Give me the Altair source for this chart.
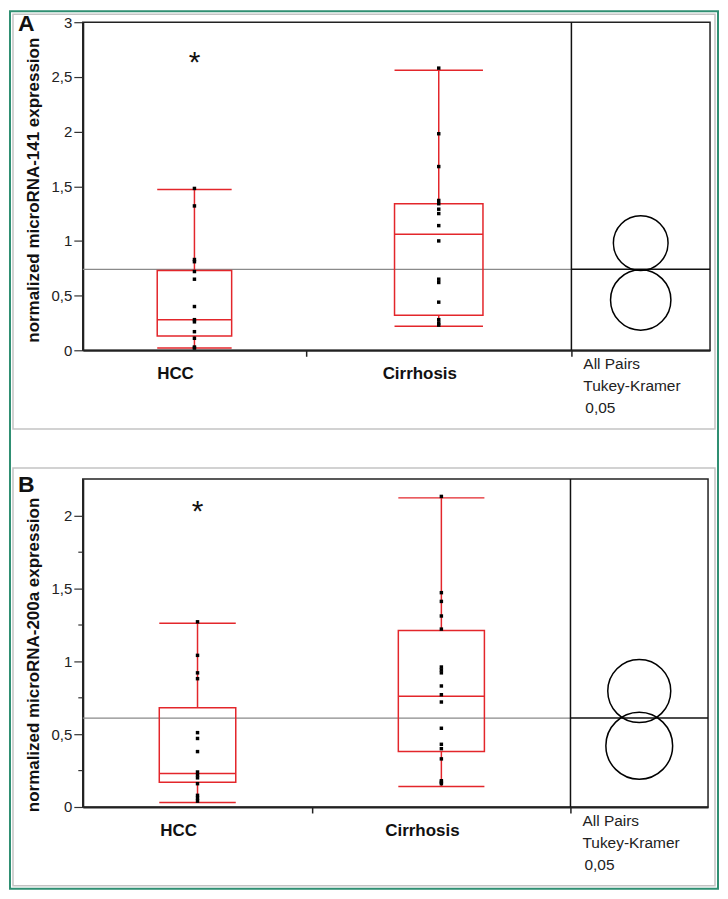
import altair as alt
import pandas as pd

categories = ["HCC", "Cirrhosis"]

# ---------------- Panel A : microRNA-141 ----------------
a_hcc_points = [1.48, 1.32, 0.83, 0.81, 0.72, 0.65, 0.40, 0.28, 0.26, 0.17, 0.11, 0.03, 0.02]
a_cirr_points = [2.58, 1.98, 1.68, 1.37, 1.34, 1.29, 1.25, 1.14, 1.00, 0.65, 0.62, 0.44, 0.28, 0.25, 0.23]
a_q1 = [0.13, 0.32]
a_median = [0.28, 1.06]
a_q3 = [0.73, 1.34]
a_whisker_low = [0.02, 0.22]
a_whisker_high = [1.47, 2.56]
a_grand_mean = 0.74
a_circle_center = [0.46, 0.98]
a_circle_radius = [0.276, 0.25]
a_y_max = 3.0
a_y_ticks = [0, 0.5, 1, 1.5, 2, 2.5, 3]

# ---------------- Panel B : microRNA-200a ----------------
b_hcc_points = [1.27, 1.04, 0.92, 0.88, 0.51, 0.47, 0.38, 0.24, 0.22, 0.20, 0.16, 0.08, 0.06, 0.04]
b_cirr_points = [2.13, 1.47, 1.41, 1.31, 1.22, 0.96, 0.94, 0.92, 0.83, 0.77, 0.72, 0.54, 0.43,
                 0.40, 0.33, 0.18, 0.17, 0.16]
b_q1 = [0.17, 0.38]
b_median = [0.23, 0.76]
b_q3 = [0.68, 1.21]
b_whisker_low = [0.03, 0.14]
b_whisker_high = [1.26, 2.12]
b_grand_mean = 0.61
b_circle_center = [0.42, 0.795]
b_circle_radius = [0.229, 0.216]
b_y_max = 2.25
b_y_ticks = [0, 0.25, 0.5, 0.75, 1, 1.25, 1.5, 1.75, 2]

test_labels = ["All Pairs", "Tukey-Kramer", "0,05"]

# ---------------- layout ----------------
PLOT_H = 329
FONT = "Liberation Sans"
RED = "#e3262b"
ONE = pd.DataFrame({"k": [0]})


def build_panel(letter, ytitle, hcc_pts, cirr_pts, q1, med, q3, wlo, whi, gmean,
                cc, cr, ymax, yticks, width, split, div, title_y, letter_y, star_y,
                grey_box, green_box=None):
    xs = alt.Scale(domain=[0, 1], nice=False, zero=False)
    ys = alt.Scale(domain=[0, ymax], nice=False, zero=True)
    even = "round(datum.value*4) % 2 == 0"
    x_axis = alt.Axis(values=[split, div], labels=False, tickSize=6, tickColor="#222",
                      tickWidth=1.5, domainColor="#222", domainWidth=2, grid=False, title=None)
    y_axis = alt.Axis(values=yticks, grid=False,
                      labelExpr=f"{even} ? replace(format(datum.value, '~g'), '.', ',') : ''",
                      tickSize={"condition": {"test": even, "value": 9}, "value": 5},
                      tickColor="#333", tickWidth=1.2, domainColor="#222", domainWidth=2,
                      labelFont=FONT, labelFontSize=15, labelColor="#222", labelPadding=2,
                      title=ytitle, titleFont=FONT, titleFontSize=17, titleFontWeight="bold",
                      titleColor="#111", titleX=-44, titleY=title_y, titleBaseline="alphabetic",
                      titleAngle=270)

    def X(f):
        return alt.X(f"{f}:Q", scale=xs, axis=x_axis)

    def Y(f):
        return alt.Y(f"{f}:Q", scale=ys, axis=y_axis)

    centers = [split / 2, (split + div) / 2]
    cat_w = [split, div - split]
    box = pd.DataFrame({
        "cat": categories, "xc": centers,
        "xl": [c - w / 6 for c, w in zip(centers, cat_w)],
        "xr": [c + w / 6 for c, w in zip(centers, cat_w)],
        "q1": q1, "med": med, "q3": q3, "lo": wlo, "hi": whi,
    })
    pts = pd.DataFrame({
        "xc": [centers[0]] * len(hcc_pts) + [centers[1]] * len(cirr_pts),
        "v": hcc_pts + cirr_pts,
    })
    px_per_unit = PLOT_H / ymax
    circ = pd.DataFrame({"xc": [(div + 1) / 2] * 2, "c": cc,
                         "sz": [(2 * r * px_per_unit) ** 2 for r in cr]})
    gm = pd.DataFrame({"x0": [0.0], "x1": [div], "x2": [1.0], "g": [gmean],
                       "y0": [0.0], "y1": [ymax]})
    lab = pd.DataFrame({"cat": categories, "xc": centers})

    layers = []
    # grey frame around panel
    gx0, gx1, gy0, gy1 = grey_box
    layers.append(alt.Chart(ONE).mark_rect(fillOpacity=0, stroke="#c3c3c3", strokeWidth=1.5).encode(
        x=alt.value(gx0), x2=alt.value(gx1), y=alt.value(gy0), y2=alt.value(gy1)))
    if green_box is not None:
        hx0, hx1, hy0, hy1 = green_box
        layers.append(alt.Chart(ONE).mark_rect(fillOpacity=0, stroke="#2f8f72", strokeWidth=2).encode(
            x=alt.value(hx0), x2=alt.value(hx1), y=alt.value(hy0), y2=alt.value(hy1)))
    # grand mean lines
    layers.append(alt.Chart(gm).mark_rule(color="#8a8a8a", strokeWidth=1.3).encode(
        x=X("x0"), x2="x1", y=Y("g")))
    layers.append(alt.Chart(gm).mark_rule(color="#111", strokeWidth=1.5).encode(
        x=X("x1"), x2="x2", y=Y("g")))
    # divider
    layers.append(alt.Chart(gm).mark_rule(color="#111", strokeWidth=1.5).encode(
        x=X("x1"), y=Y("y0"), y2="y1"))
    # whiskers
    layers.append(alt.Chart(box).mark_rule(color=RED, strokeWidth=1.5).encode(
        x=X("xc"), y=Y("q3"), y2="hi"))
    layers.append(alt.Chart(box).mark_rule(color=RED, strokeWidth=1.5).encode(
        x=X("xc"), y=Y("lo"), y2="q1"))
    # caps
    layers.append(alt.Chart(box).mark_rule(color=RED, strokeWidth=1.5).encode(
        x=X("xl"), x2="xr", y=Y("hi")))
    layers.append(alt.Chart(box).mark_rule(color=RED, strokeWidth=1.5).encode(
        x=X("xl"), x2="xr", y=Y("lo")))
    # box
    layers.append(alt.Chart(box).mark_rect(fillOpacity=0, stroke=RED, strokeWidth=1.5).encode(
        x=X("xl"), x2="xr", y=Y("q1"), y2="q3"))
    layers.append(alt.Chart(box).mark_rule(color=RED, strokeWidth=1.5).encode(
        x=X("xl"), x2="xr", y=Y("med")))
    # points
    layers.append(alt.Chart(pts).mark_square(size=12, color="black", opacity=1).encode(
        x=X("xc"), y=Y("v")))
    # comparison circles
    layers.append(alt.Chart(circ).mark_point(shape="circle", filled=False, color="black",
                                             strokeWidth=1.5, opacity=1).encode(
        x=X("xc"), y=Y("c"), size=alt.Size("sz:Q", scale=None, legend=None)))
    # category labels
    layers.append(alt.Chart(lab).mark_text(font=FONT, fontSize=17, fontWeight="bold",
                                           color="#111", baseline="middle", dx=-19).encode(
        x=X("xc"), y=alt.value(PLOT_H + 24), text="cat:N"))
    # test labels
    for i, (t, dxx) in enumerate(zip(test_labels, [12, 12, 14])):
        layers.append(alt.Chart(gm).mark_text(font=FONT, fontSize=15.5, color="#222", align="left",
                                              baseline="middle", dx=dxx, text=t).encode(
            x=X("x1"), y=alt.value(PLOT_H + 14 + 22 * i)))
    # asterisk
    layers.append(alt.Chart(lab.iloc[[0]]).mark_text(font=FONT, fontSize=30, color="#111",
                                                     baseline="alphabetic", text="*").encode(
        x=X("xc"), y=alt.value(star_y)))
    # panel letter
    layers.append(alt.Chart(ONE).mark_text(font=FONT, fontSize=23, fontWeight="bold", color="#111",
                                           align="left", baseline="alphabetic", text=letter).encode(
        x=alt.value(-65), y=alt.value(letter_y)))

    return alt.layer(*layers).properties(width=width, height=PLOT_H)


panel_a = build_panel("A", "normalized microRNA-141 expression",
                      a_hcc_points, a_cirr_points, a_q1, a_median, a_q3, a_whisker_low,
                      a_whisker_high, a_grand_mean, a_circle_center, a_circle_radius,
                      a_y_max, a_y_ticks, width=629, split=0.356, div=0.779,
                      title_y=168, letter_y=9, star_y=50,
                      grey_box=(-70, 634, -8, 408), green_box=(-73, 637, -11, 869))
panel_b = build_panel("B", "normalized microRNA-200a expression",
                      b_hcc_points, b_cirr_points, b_q1, b_median, b_q3, b_whisker_low,
                      b_whisker_high, b_grand_mean, b_circle_center, b_circle_radius,
                      b_y_max, b_y_ticks, width=627, split=0.367, div=0.780,
                      title_y=176, letter_y=13, star_y=42,
                      grey_box=(-70, 634, -11, 408))

chart = alt.vconcat(panel_a, panel_b, spacing=129, bounds="flush").properties(
    padding=0, background="white"
).configure_view(stroke="#222", strokeWidth=1.5)

chart.save("out.html", embed_options={"renderer": "svg", "actions": False})
